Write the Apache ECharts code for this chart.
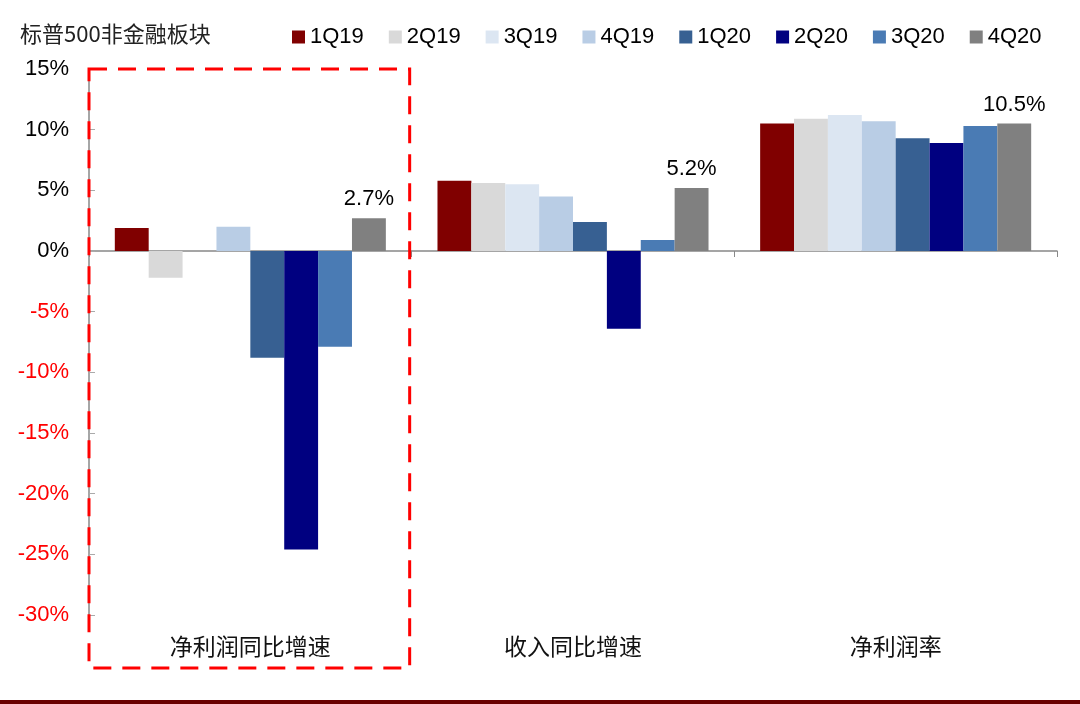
<!DOCTYPE html>
<html><head><meta charset="utf-8">
<script src="https://cdn.jsdelivr.net/npm/echarts@6/dist/echarts.min.js"></script>
<style>html,body{margin:0;padding:0;background:#fff}#c{width:1080px;height:704px}</style>
</head><body><div id="c"></div>
<script>
const categories = ['净利润同比增速', '收入同比增速', '净利润率'];
const seriesNames = ['1Q19', '2Q19', '3Q19', '4Q19', '1Q20', '2Q20', '3Q20', '4Q20'];
const s1Q19 = [1.9, 5.8, 10.5];
const s2Q19 = [-2.2, 5.6, 10.9];
const s3Q19 = [0, 5.5, 11.2];
const s4Q19 = [2.0, 4.5, 10.7];
const s1Q20 = [-8.8, 2.4, 9.3];
const s2Q20 = [-24.6, -6.4, 8.9];
const s3Q20 = [-7.9, 0.9, 10.3];
const s4Q20 = [2.7, 5.2, 10.5];
const yTicks = { min: -30, max: 15, interval: 5 };
const title = '标普500非金融板块';

const values = [s1Q19, s2Q19, s3Q19, s4Q19, s1Q20, s2Q20, s3Q20, s4Q20];
const colors = ['#800000', '#D9D9D9', '#DCE6F2', '#B9CDE5', '#376092', '#000080', '#4A7BB4', '#808080'];

const latin = '"Liberation Sans", Arial, sans-serif';
const cjk = '"Noto Sans CJK SC", sans-serif';

const chart = echarts.init(document.getElementById('c'), null, { renderer: 'canvas' });
const series = seriesNames.map((n, i) => ({
  name: n, type: 'bar', data: values[i], xAxisIndex: 0,
  barGap: '0%', barCategoryGap: '16%',
  itemStyle: { color: colors[i] },
  label: i === 7 ? { show: true, position: 'top', distance: 8, formatter: p => p.value.toFixed(1) + '%', fontSize: 22, fontFamily: latin, color: '#000' } : { show: false }
}));

chart.setOption({
  animation: false,
  backgroundColor: '#fff',
  title: { text: title, left: 15, top: 18, textStyle: { fontFamily: cjk, fontSize: 22, fontWeight: 'normal', color: '#222' } },
  legend: {
    data: seriesNames, left: 287, top: 21, itemWidth: 13, itemHeight: 13, itemGap: 25,
    icon: 'rect', textStyle: { fontFamily: latin, fontSize: 22, color: '#000' }
  },
  grid: { left: 89, right: 23, top: 69, bottom: 89 },
  xAxis: [
    { type: 'category', data: categories, position: 'bottom',
      axisLine: { onZero: true, lineStyle: { color: '#888', width: 1.5 } },
      axisTick: { show: true, alignWithLabel: false, length: 6, lineStyle: { color: '#888' } },
      axisLabel: { show: false }, splitLine: { show: false } },
    { type: 'category', data: categories, position: 'bottom',
      axisLine: { show: false, onZero: false }, axisTick: { show: false },
      axisLabel: { show: true, margin: 20, fontFamily: cjk, fontSize: 23, color: '#111' } }
  ],
  yAxis: {
    type: 'value', min: yTicks.min, max: yTicks.max, interval: yTicks.interval,
    axisLine: { show: true, lineStyle: { color: '#888', width: 1.5 } },
    axisTick: { show: true, inside: true, length: 6, lineStyle: { color: '#aaa' } },
    splitLine: { show: false },
    axisLabel: { margin: 20, fontFamily: latin, fontSize: 22,
      formatter: v => v + '%', color: v => (Number(v) < 0 ? '#FF0000' : '#000') }
  },
  series: series
});

const c0 = chart.convertToPixel({ xAxisIndex: 0 }, 0);
const c1 = chart.convertToPixel({ xAxisIndex: 0 }, 1);
const band = c1 - c0;
const yTop = chart.convertToPixel({ yAxisIndex: 0 }, yTicks.max);
chart.setOption({
  graphic: [
    { type: 'rect', shape: { x: c0 - band / 2, y: yTop, width: band - 2, height: 668 - yTop },
      style: { fill: 'none', stroke: '#FF0000', lineWidth: 3, lineDash: [18, 11] }, z: 100 },
    { type: 'rect', shape: { x: 0, y: 700, width: 1080, height: 4 }, style: { fill: '#6A0000' }, z: 100 }
  ]
});
</script></body></html>
